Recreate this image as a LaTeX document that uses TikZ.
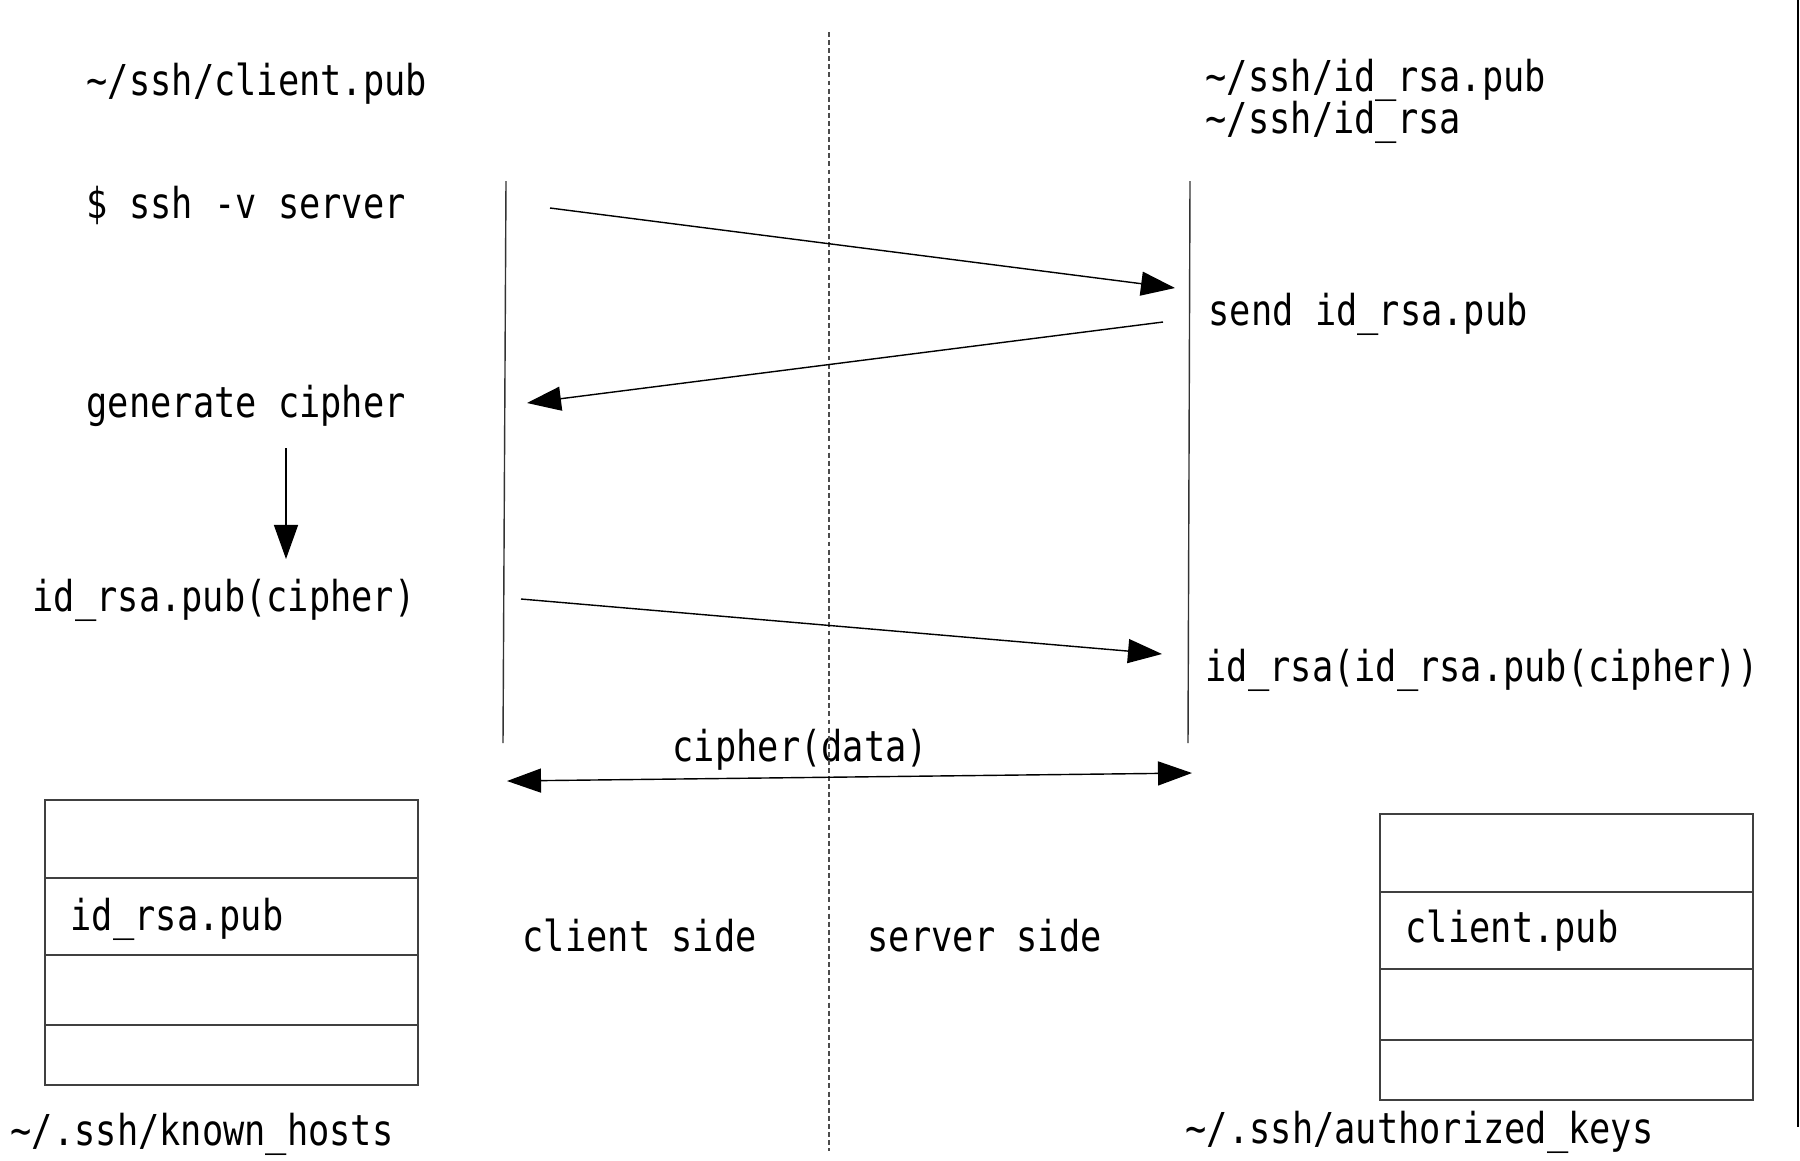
\documentclass[tikz,border=0pt]{standalone}
\usepackage{fontspec}
\usetikzlibrary{arrows.meta, positioning}
\newfontfamily\codefont{DejaVu Sans Mono}[FakeStretch=0.83]
\tikzset{
	txt/.style     ={font=\codefont\fontsize{12.1}{14}\selectfont, anchor=base west, inner sep=0pt},
	lifeline/.style={line width=0.4pt, black!80},
	divider/.style ={line width=0.3pt, black!70, dash pattern=on 1.4pt off 0.9pt},
	msg/.style     ={-{Triangle[length=3.4mm, width=2.4mm]}, line width=0.4pt},
	twoway/.style  ={{Triangle[length=3.4mm, width=2.4mm]}-{Triangle[length=3.4mm, width=2.4mm]}, line width=0.4pt},
	keyfile/.style ={draw=black!75, line width=0.4pt},
}
\begin{document}
\begin{tikzpicture}[x=0.01cm, y=-0.01cm]
	\useasboundingbox (0,0) rectangle (1800,1160);
	% client side texts
	\node[txt] (clientpub) at (86,95) {\textasciitilde/ssh/client.pub};
	\node[txt] (sshcmd) at (86,218) {\$ ssh -v server};
	\node[txt] (gencipher) at (86,417) {generate cipher};
	\node[txt] (enccipher) at (32,611) {id\_rsa.pub(cipher)};
	% server side texts
	\node[txt] (idrsapub) at (1205,91) {\textasciitilde/ssh/id\_rsa.pub};
	\node[txt] (idrsa) at (1205,133) {\textasciitilde/ssh/id\_rsa};
	\node[txt] (sendpub) at (1208,325) {send id\_rsa.pub};
	\node[txt] (decrypt) at (1205,681) {id\_rsa(id\_rsa.pub(cipher))};
	\node[txt] (cipherdata) at (672,761) {cipher(data)};
	\node[txt] (clientside) at (522,951) {client side};
	\node[txt] (serverside) at (867,951) {server side};
	% divider and frame line
	\coordinate (divtop) at (829,32); \coordinate (divbot) at (829,1151);
	\draw[divider] (divtop) -- (divbot);
	\coordinate (edgetop) at (1798,0); \coordinate (edgebot) at (1798,1127);
	\draw[line width=0.5pt] (edgetop) -- (edgebot);
	% lifelines
	\coordinate (cltop) at (506,181); \coordinate (clbot) at (503,743);
	\coordinate (svtop) at (1190,181); \coordinate (svbot) at (1188,743);
	\draw[lifeline] (cltop) -- (clbot);
	\draw[lifeline] (svtop) -- (svbot);
	% messages
	\coordinate (m1a) at (550,208); \coordinate (m1b) at (1175,288);
	\coordinate (m2a) at (1163,322); \coordinate (m2b) at (527,403);
	\coordinate (m3a) at (521,599); \coordinate (m3b) at (1162,654);
	\coordinate (m4a) at (507,781); \coordinate (m4b) at (1192,773);
	\coordinate (gena) at (286,448); \coordinate (genb) at (286,559);
	\draw[msg] (m1a) -- (m1b);
	\draw[msg] (m2a) -- (m2b);
	\draw[msg] (gena) -- (genb);
	\draw[msg] (m3a) -- (m3b);
	\draw[twoway] (m4a) -- (m4b);
	% known_hosts table
	\draw[keyfile] (45,800) rectangle (418,1085);
	\foreach \y in {878,955,1025} \draw[keyfile] (45,\y) -- (418,\y);
	\node[txt] (hostkey) at (70,930) {id\_rsa.pub};
	\node[txt] (knownhosts) at (10,1145) {\textasciitilde/.ssh/known\_hosts};
	% authorized_keys table
	\draw[keyfile] (1380,814) rectangle (1753,1100);
	\foreach \y in {892,969,1040} \draw[keyfile] (1380,\y) -- (1753,\y);
	\node[txt] (authkey) at (1405,942) {client.pub};
	\node[txt] (authkeys) at (1185,1143) {\textasciitilde/.ssh/authorized\_keys};
\end{tikzpicture}
\end{document}
